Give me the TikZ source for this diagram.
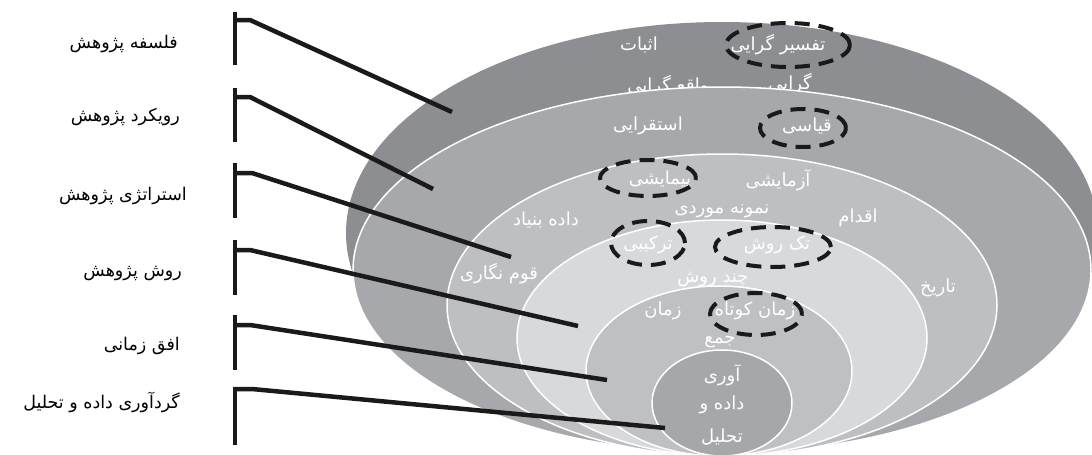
\documentclass[tikz,border=0pt]{standalone}
\usepackage{fontspec}
\TeXXeTstate=1
\newfontfamily\fa[Script=Arabic]{DejaVu Sans}
\newcommand\faR[1]{{\fa\beginR #1\endR}}
\definecolor{cA}{RGB}{141,142,145}
\definecolor{cB}{RGB}{167,168,171}
\definecolor{cC}{RGB}{190,191,194}
\definecolor{cD}{RGB}{216,217,219}
\definecolor{cE}{RGB}{191,192,195}
\definecolor{cF}{RGB}{166,167,170}
\definecolor{ink}{RGB}{26,26,26}
\tikzset{
  layer/.style={draw=white, line width=1.5pt},
  wtext/.style={text=white, font=\fontsize{18}{20}\selectfont, inner sep=0pt},
  ltext/.style={text=black, font=\fontsize{17.5}{20}\selectfont, inner sep=0pt, anchor=east},
  dashring/.style={draw=ink, line width=4pt, dash pattern=on 15pt off 9pt},
  bracket/.style={draw=ink, line width=4.5pt},
}
\begin{document}
\begin{tikzpicture}[x=1pt,y=-1pt]
\useasboundingbox (0,0) rectangle (1092,455);
% layer 1
\fill[cA] (722,233) ellipse [x radius=376pt, y radius=211pt];
\node[wtext] (t1a) at (639,45) {\faR{اثبات}};
\node[wtext] (t1b) at (778,45) {\faR{تفسیر گرایی}};
\node[wtext] (t1c) at (790,84) {\faR{گرایی}};
\node[wtext] (t1d) at (668,86) {\faR{واقع گرایی}};
% layer 2
\filldraw[layer, fill=cB] (722,270) ellipse [x radius=369pt, y radius=183pt];
\node[wtext] (t2a) at (648,126) {\faR{استقرایی}};
\node[wtext] (t2b) at (807,126) {\faR{قیاسی}};
% layer 3
\filldraw[layer, fill=cC] (722,305) ellipse [x radius=275pt, y radius=151pt];
\node[wtext] (t3a) at (660,180) {\faR{پیمایشی}};
\node[wtext] (t3b) at (778,180) {\faR{آزمایشی}};
\node[wtext] (t3c) at (546,220) {\faR{داده بنیاد}};
\node[wtext] (t3d) at (499,274) {\faR{قوم نگاری}};
\node[wtext] (t3e) at (858,218) {\faR{اقدام}};
\node[wtext] (t3f) at (938,288) {\faR{تاریخ}};
\node[wtext] (t3g) at (722,211) {\faR{نمونه موردی}};
% layer 4
\filldraw[layer, fill=cD] (722,338) ellipse [x radius=205pt, y radius=118pt];
\node[wtext] (t4a) at (648,245) {\faR{ترکیبی}};
\node[wtext] (t4b) at (777,245) {\faR{تک روش}};
\node[wtext] (t4c) at (713,279) {\faR{چند روش}};
% layer 5
\filldraw[layer, fill=cE] (719,371) ellipse [x radius=133pt, y radius=85pt];
\node[wtext] (t5a) at (663,311) {\faR{زمان}};
\node[wtext] (t5b) at (755,311) {\faR{زمان کوتاه}};
% layer 6
\filldraw[layer, fill=cF] (722,403) ellipse [x radius=70pt, y radius=53pt];
\node[wtext] (t6a) at (720,342) {\faR{جمع}};
\node[wtext] (t6b) at (722,375) {\faR{آوری}};
\node[wtext] (t6c) at (722,405) {\faR{داده و}};
\node[wtext] (t6d) at (722,437) {\faR{تحلیل}};
% dashed rings
\draw[dashring] (788,45) ellipse [x radius=62pt, y radius=22pt];
\draw[dashring] (803,128) ellipse [x radius=43pt, y radius=19pt];
\draw[dashring] (648,178) ellipse [x radius=48pt, y radius=18pt];
\draw[dashring] (648,243) ellipse [x radius=37pt, y radius=22pt];
\draw[dashring] (773,247) ellipse [x radius=58pt, y radius=20pt];
\draw[dashring] (756,314) ellipse [x radius=46pt, y radius=21pt];
% left labels
\node[ltext] (l1) at (178,44) {\faR{فلسفه پژوهش}};
\node[ltext] (l2) at (180,117) {\faR{رویکرد پژوهش}};
\node[ltext] (l3) at (187,196) {\faR{استراتژی پژوهش}};
\node[ltext] (l4) at (182,274) {\faR{روش پژوهش}};
\node[ltext] (l5) at (180,346) {\faR{افق زمانی}};
\node[ltext] (l6) at (180,402) {\faR{گردآوری داده و تحلیل}};
% bracket coordinates
\coordinate (a1) at (235,12);  \coordinate (b1) at (235,65);
\coordinate (c1) at (235,20);  \coordinate (d1) at (250,20);  \coordinate (e1) at (452,112);
\coordinate (a2) at (235,88);  \coordinate (b2) at (235,142);
\coordinate (c2) at (235,97);  \coordinate (d2) at (250,97);  \coordinate (e2) at (433,189);
\coordinate (a3) at (235,163); \coordinate (b3) at (235,218);
\coordinate (c3) at (235,173); \coordinate (d3) at (252,173); \coordinate (e3) at (511,257);
\coordinate (a4) at (235,240); \coordinate (b4) at (235,295);
\coordinate (c4) at (235,250); \coordinate (d4) at (250,250); \coordinate (e4) at (578,326);
\coordinate (a5) at (235,315); \coordinate (b5) at (235,370);
\coordinate (c5) at (235,325); \coordinate (d5) at (250,325); \coordinate (e5) at (607,380);
\coordinate (a6) at (235,387); \coordinate (b6) at (235,445);
\coordinate (c6) at (235,389); \coordinate (d6) at (252,389); \coordinate (e6) at (665,428);
\foreach \i in {1,...,6}{
  \draw[bracket] (a\i) -- (b\i);
  \draw[bracket] (c\i) -- (d\i) -- (e\i);
}
\end{tikzpicture}
\end{document}
